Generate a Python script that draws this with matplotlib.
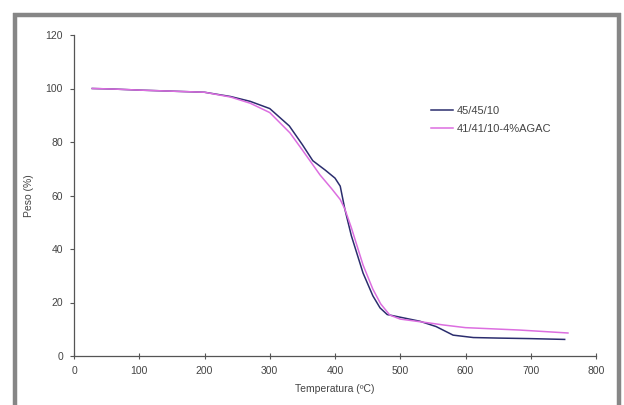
import matplotlib
matplotlib.use("Agg")
import matplotlib.pyplot as plt
from matplotlib.lines import Line2D

temp_a = [28, 60, 100, 150, 200, 240, 270, 300, 330, 350, 366, 385, 400, 408, 415, 425, 443, 458, 469, 480, 500, 530, 555, 581, 612, 650, 699, 752]
mass_a = [100, 99.8, 99.4, 99.0, 98.6, 97.0, 95.2, 92.5, 86.0, 79.0, 73.0, 69.5, 66.5, 63.5, 55.0, 45.0, 31.0, 22.5, 18.0, 15.5, 14.5, 13.0, 11.0, 7.8, 6.9, 6.7, 6.5, 6.2]

temp_b = [28, 60, 100, 150, 200, 240, 270, 300, 331, 350, 377, 395, 408, 415, 425, 443, 458, 470, 484, 500, 546, 566, 600, 683, 757]
mass_b = [100, 99.8, 99.4, 99.0, 98.6, 96.8, 94.5, 91.0, 83.4, 77.0, 67.7, 62.5, 58.5, 55.0, 48.0, 34.0, 25.0, 19.5, 15.3, 13.8, 12.3, 11.6, 10.6, 9.7, 8.6]

labels = ["45/45/10", "41/41/10-4%AGAC"]

fig = plt.figure(figsize=(6.24, 4.05), dpi=100)
plt.rcParams['font.family'] = ['Liberation Sans', 'DejaVu Sans']

# gray frame
W, H = 624, 405
fr = dict(color='#868686', lw=3.2, transform=fig.transFigure, solid_capstyle='butt')
fig.add_artist(Line2D([15/W, 15/W], [0, 1 - 13/H], **fr))
fig.add_artist(Line2D([13/W, 621/W], [1 - 15/H, 1 - 15/H], **fr))
fig.add_artist(Line2D([619/W, 619/W], [0, 1 - 13/H], **fr))

ax = fig.add_axes([74/W, 1 - 356/H, (596 - 74)/W, (356 - 35)/H])
ax.plot(temp_a, mass_a, color='#2b2d6e', lw=1.1, label=labels[0])
ax.plot(temp_b, mass_b, color='#dc6ee0', lw=1.1, label=labels[1])

ax.set_xlim(0, 800)
ax.set_ylim(0, 120)
ax.set_xticks(range(0, 801, 100))
ax.set_yticks(range(0, 121, 20))
for s in ['top', 'right']:
    ax.spines[s].set_visible(False)
for s in ['left', 'bottom']:
    ax.spines[s].set_color('#555555')
    ax.spines[s].set_linewidth(0.9)
ax.tick_params(axis='x', direction='inout', length=4, width=0.8, colors='#555555', labelsize=7.5, labelcolor='#444444', pad=5)
ax.tick_params(axis='y', direction='out', length=3, width=0.8, colors='#555555', labelsize=7.5, labelcolor='#444444', pad=5)
ax.set_xlabel('Temperatura (ºC)', fontsize=7.5, color='#444444', labelpad=6)
ax.set_ylabel('Peso (%)', fontsize=7.5, color='#444444', labelpad=8)

ax.legend(loc='upper left', bbox_to_anchor=(0.665, 0.81), frameon=False, fontsize=8,
          handlelength=2.0, handletextpad=0.3, labelspacing=0.75, labelcolor='#444444')

fig.savefig('out.png', dpi=100)
